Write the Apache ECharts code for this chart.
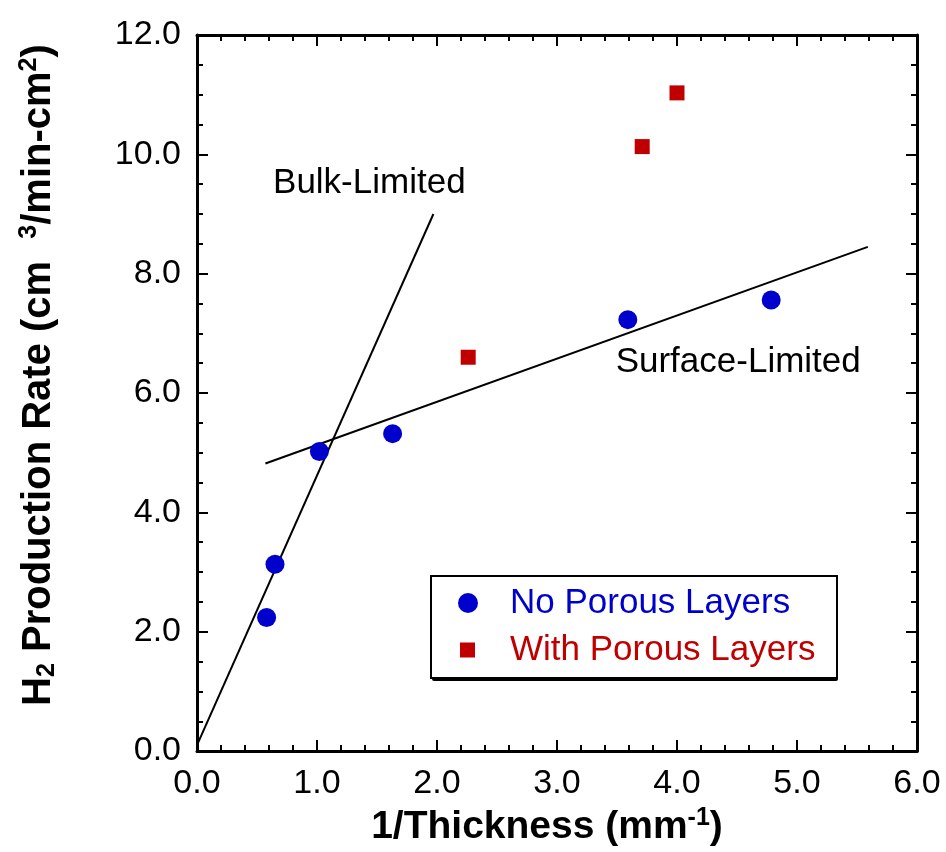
<!DOCTYPE html>
<html>
<head>
<meta charset="utf-8">
<script src="https://cdn.jsdelivr.net/npm/echarts@6/dist/echarts.min.js"></script>
<style>
  html, body { margin: 0; padding: 0; background: #fff; }
  #chart { width: 946px; height: 852px; }
</style>
</head>
<body>
<div id="chart"></div>
<script>
// values
const noPorous = [[0.58, 2.24], [0.65, 3.13], [1.02, 5.02], [1.63, 5.32], [3.59, 7.23], [4.785, 7.56]];
const withPorous = [[2.26, 6.6], [3.71, 10.13], [4.0, 11.03]];
const bulkLine = [[0, 0.1], [1.97, 9.0]];
const surfaceLine = [[0.57, 4.82], [5.59, 8.45]];
const notes = [
  { name: 'Bulk-Limited', value: [1.436, 9.52] },
  { name: 'Surface-Limited', value: [4.51, 6.52] }
];

const FONT = "'Liberation Sans', Arial, sans-serif";
const BLUE = '#0000cc';
const RED = '#c00000';

const chart = echarts.init(document.getElementById('chart'));

const tickCommon = (labels, minorSplit) => ({
  axisLine: { show: true, onZero: false, lineStyle: { color: '#000', width: 3 } },
  axisTick: { show: true, inside: true, length: 11, lineStyle: { color: '#000', width: 2 } },
  minorTick: { show: true, splitNumber: minorSplit, length: 6, lineStyle: { color: '#000', width: 2 } },
  splitLine: { show: false },
  axisLabel: labels
    ? { show: true, fontFamily: FONT, fontSize: 34, color: '#000', margin: 16, formatter: (v) => v.toFixed(1) }
    : { show: false }
});

const supRich = {
  sup: { fontFamily: FONT, fontWeight: 'bold', fontSize: 25, color: '#000', verticalAlign: 'top', padding: [0, 0, 18, 0] },
  sub: { fontFamily: FONT, fontWeight: 'bold', fontSize: 25, color: '#000', padding: [18, 0, 0, 0] }
};

const option = {
  animation: false,
  backgroundColor: '#fff',
  grid: { left: 197, right: 29, top: 35, bottom: 99, containLabel: false },
  xAxis: [
    Object.assign({
      type: 'value', min: 0, max: 6, interval: 1, position: 'bottom',
      name: '1/Thickness (mm{sup|-1})',
      nameLocation: 'middle', nameGap: 52,
      nameTextStyle: { fontFamily: FONT, fontWeight: 'bold', fontSize: 39, color: '#000', padding: [0, 20, 0, 0], rich: supRich }
    }, tickCommon(true, 5)),
    Object.assign({ type: 'value', min: 0, max: 6, interval: 1, position: 'top' }, tickCommon(false, 5))
  ],
  yAxis: [
    Object.assign({
      type: 'value', min: 0, max: 12, interval: 2, position: 'left',
      name: 'H{sub|2} Production Rate (cm  {sup|3}/min-cm{sup|2})',
      nameLocation: 'middle', nameGap: 137, nameRotate: 90,
      nameTextStyle: { fontFamily: FONT, fontWeight: 'bold', fontSize: 40, color: '#000', padding: [0, 0, 0, 36], rich: supRich }
    }, tickCommon(true, 4)),
    Object.assign({ type: 'value', min: 0, max: 12, interval: 2, position: 'right' }, tickCommon(false, 4))
  ],
  legend: [
    {
      data: ['No Porous Layers'],
      left: 458, top: 583, padding: 0,
      itemWidth: 20, itemHeight: 20,
      textStyle: { fontFamily: FONT, fontSize: 35, color: BLUE, lineHeight: 40, padding: [0, 0, 0, 27] }
    },
    {
      data: ['With Porous Layers'],
      left: 460, top: 630, padding: 0,
      itemWidth: 15, itemHeight: 15,
      textStyle: { fontFamily: FONT, fontSize: 35, color: RED, lineHeight: 40, padding: [0, 0, 0, 30] }
    }
  ],
  graphic: [
    {
      // drop shadow of the legend box
      type: 'rect', left: 432, top: 579, z: 0,
      shape: { width: 406, height: 102, r: 2 },
      style: { fill: '#000' }
    },
    {
      type: 'rect', left: 430, top: 575, z: 1,
      shape: { width: 406, height: 102 },
      style: { fill: '#fff', stroke: '#000', lineWidth: 2 }
    }
  ],
  series: [
    {
      name: 'Bulk-Limited line', type: 'line', data: bulkLine, symbol: 'none',
      lineStyle: { color: '#000', width: 2 }, z: 3
    },
    {
      name: 'Surface-Limited line', type: 'line', data: surfaceLine, symbol: 'none',
      lineStyle: { color: '#000', width: 2 }, z: 3
    },
    {
      name: 'No Porous Layers', type: 'scatter', data: noPorous,
      symbol: 'circle', symbolSize: 19, itemStyle: { color: BLUE, opacity: 1 }, z: 4
    },
    {
      name: 'With Porous Layers', type: 'scatter', data: withPorous,
      symbol: 'rect', symbolSize: 15, itemStyle: { color: RED, opacity: 1, borderRadius: 2 }, z: 4
    },
    {
      name: 'notes', type: 'scatter', data: notes, symbolSize: 0, silent: true,
      itemStyle: { opacity: 1 },
      label: {
        show: true, position: 'inside', formatter: '{b}',
        fontFamily: FONT, fontSize: 35, color: '#000', opacity: 1
      }
    }
  ]
};

chart.setOption(option);
</script>
</body>
</html>
